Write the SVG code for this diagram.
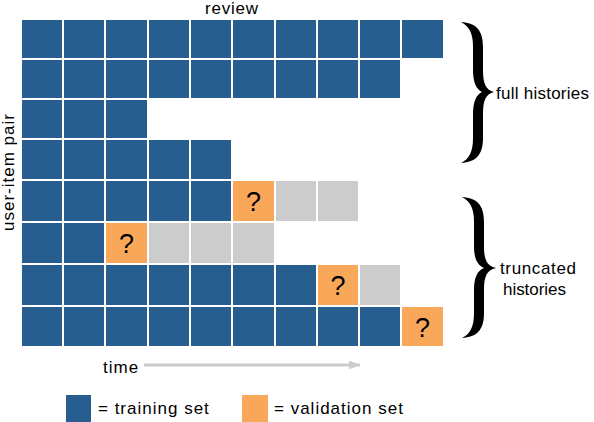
<svg xmlns="http://www.w3.org/2000/svg" width="594" height="422" viewBox="0 0 594 422">
<style>
.b{fill:#275D8F}
.o{fill:#F9A85A}
.g{fill:#CCCCCC}
.t{font-family:"Liberation Sans",Arial,sans-serif;font-size:17px;fill:#000;letter-spacing:1px}
.q{font-family:"Liberation Sans",Arial,sans-serif;font-size:27px;fill:#000;text-anchor:middle}
.br{fill:#000}
</style>
<defs>
<marker id="ah" markerWidth="4" markerHeight="4" refX="3.6" refY="2" orient="auto" markerUnits="strokeWidth">
<path d="M0,0.6 L4,2 L0,3.4 Z" fill="#CCCCCC"/>
</marker>
</defs>
<rect width="594" height="422" fill="#fff"/>
<text class="t" x="205" y="13.7" font-size="15" textLength="54" lengthAdjust="spacing">review</text>
<text class="t" transform="translate(14,172) rotate(-90)" text-anchor="middle">user-item pair</text>

<g id="row1">
<rect class="b" x="22" y="20" width="40" height="38"/><rect class="b" x="64" y="20" width="40" height="38"/><rect class="b" x="106" y="20" width="41" height="38"/><rect class="b" x="149" y="20" width="40" height="38"/><rect class="b" x="191" y="20" width="40" height="38"/><rect class="b" x="233" y="20" width="41" height="38"/><rect class="b" x="276" y="20" width="40" height="38"/><rect class="b" x="318" y="20" width="40" height="38"/><rect class="b" x="360" y="20" width="40" height="38"/><rect class="b" x="402" y="20" width="41" height="38"/>
</g>
<g id="row2">
<rect class="b" x="22" y="60" width="40" height="38"/><rect class="b" x="64" y="60" width="40" height="38"/><rect class="b" x="106" y="60" width="41" height="38"/><rect class="b" x="149" y="60" width="40" height="38"/><rect class="b" x="191" y="60" width="40" height="38"/><rect class="b" x="233" y="60" width="41" height="38"/><rect class="b" x="276" y="60" width="40" height="38"/><rect class="b" x="318" y="60" width="40" height="38"/><rect class="b" x="360" y="60" width="40" height="38"/>
</g>
<g id="row3">
<rect class="b" x="22" y="100" width="40" height="38"/><rect class="b" x="64" y="100" width="40" height="38"/><rect class="b" x="106" y="100" width="41" height="38"/>
</g>
<g id="row4">
<rect class="b" x="22" y="140" width="40" height="39"/><rect class="b" x="64" y="140" width="40" height="39"/><rect class="b" x="106" y="140" width="41" height="39"/><rect class="b" x="149" y="140" width="40" height="39"/><rect class="b" x="191" y="140" width="40" height="39"/>
</g>
<g id="row5">
<rect class="b" x="22" y="181" width="40" height="40"/><rect class="b" x="64" y="181" width="40" height="40"/><rect class="b" x="106" y="181" width="41" height="40"/><rect class="b" x="149" y="181" width="40" height="40"/><rect class="b" x="191" y="181" width="40" height="40"/>
<rect class="o" x="233" y="181" width="41" height="40"/><text class="q" x="253.5" y="211">?</text>
<rect class="g" x="276" y="181" width="40" height="40"/><rect class="g" x="318" y="181" width="40" height="40"/>
</g>
<g id="row6">
<rect class="b" x="22" y="223" width="40" height="40"/><rect class="b" x="64" y="223" width="40" height="40"/>
<rect class="o" x="106" y="223" width="41" height="40"/><text class="q" x="126.5" y="253">?</text>
<rect class="g" x="149" y="223" width="40" height="40"/><rect class="g" x="191" y="223" width="40" height="40"/><rect class="g" x="233" y="223" width="41" height="40"/>
</g>
<g id="row7">
<rect class="b" x="22" y="265" width="40" height="40"/><rect class="b" x="64" y="265" width="40" height="40"/><rect class="b" x="106" y="265" width="41" height="40"/><rect class="b" x="149" y="265" width="40" height="40"/><rect class="b" x="191" y="265" width="40" height="40"/><rect class="b" x="233" y="265" width="41" height="40"/><rect class="b" x="276" y="265" width="40" height="40"/>
<rect class="o" x="318" y="265" width="40" height="40"/><text class="q" x="338" y="295">?</text>
<rect class="g" x="360" y="265" width="40" height="40"/>
</g>
<g id="row8">
<rect class="b" x="22" y="307" width="40" height="39"/><rect class="b" x="64" y="307" width="40" height="39"/><rect class="b" x="106" y="307" width="41" height="39"/><rect class="b" x="149" y="307" width="40" height="39"/><rect class="b" x="191" y="307" width="40" height="39"/><rect class="b" x="233" y="307" width="41" height="39"/><rect class="b" x="276" y="307" width="40" height="39"/><rect class="b" x="318" y="307" width="40" height="39"/><rect class="b" x="360" y="307" width="40" height="39"/>
<rect class="o" x="402" y="307" width="41" height="39"/><text class="q" x="422.5" y="337">?</text>
</g>

<g id="brace-full">
<path class="br" d="M461,22 C476,23 483,30 483,47 L483,70 C483,84 486,90 494,92 C486,94 483,100 483,114 L483,138 C483,155 476,162 461,163 C469,159 473,152 473,138 L473,114 C473,102 476,95 482,92 C476,89 473,82 473,70 L473,47 C473,33 469,26 461,22 Z"/>
<text class="t" x="496" y="99" font-size="15" textLength="94" lengthAdjust="spacing">full histories</text>
</g>
<g id="brace-truncated">
<path class="br" d="M462,197 C477,198 484,205 484,222 L484,246 C484,260 487,266 496,268 C487,270 484,276 484,290 L484,313 C484,330 477,337 462,338 C470,334 474,327 474,313 L474,290 C474,278 477,271 484,268 C477,265 474,258 474,246 L474,222 C474,208 470,201 462,197 Z"/>
<text class="t" x="500" y="274" font-size="15" textLength="77" lengthAdjust="spacing">truncated</text>
<text class="t" x="503" y="295" font-size="15" textLength="64" lengthAdjust="spacing">histories</text>
</g>

<g id="connectors">
<text class="t" x="103" y="373">time</text>
<line x1="144" y1="365" x2="360" y2="365" stroke="#CCCCCC" stroke-width="3" marker-end="url(#ah)"/>
</g>

<g id="legend-training">
<rect class="b" x="66" y="395" width="25" height="27"/>
<text class="t" x="98" y="414">= training set</text>
</g>
<g id="legend-validation">
<rect class="o" x="242" y="395" width="26" height="27"/>
<text class="t" x="274" y="414">= validation set</text>
</g>
</svg>
